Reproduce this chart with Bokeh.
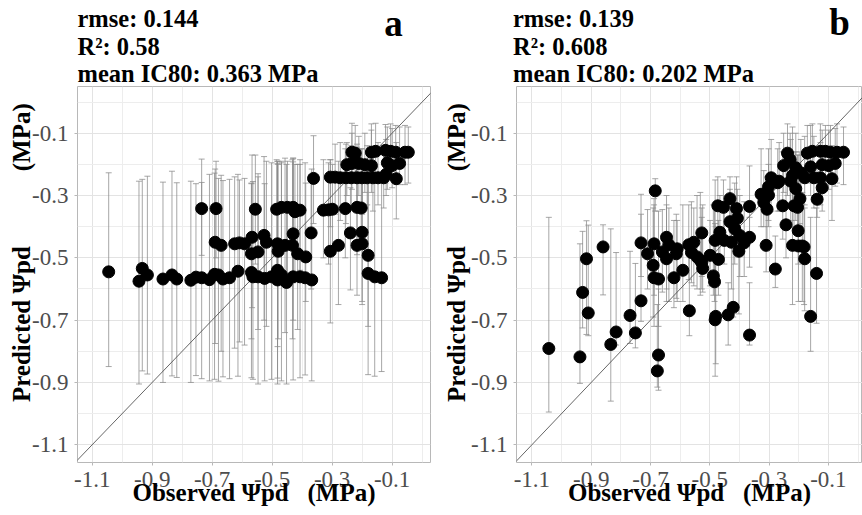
from bokeh.plotting import figure
from bokeh.layouts import row, column
from bokeh.models import (Range1d, FixedTicker, Whisker, TeeHead, ColumnDataSource, Slope)
from bokeh.core.properties import value
from bokeh.embed import file_html
from bokeh.resources import INLINE

# ---------------- data ----------------
major_ticks = [-1.1, -0.9, -0.7, -0.5, -0.3, -0.1]
minor_ticks = [-1.0, -0.8, -0.6, -0.4, -0.2, 0.0]
tick_labels = ["-1.1", "-0.9", "-0.7", "-0.5", "-0.3", "-0.1"]

stats_a = ["rmse: 0.144", "R\u00b2: 0.58", "mean IC80: 0.363 MPa"]
stats_b = ["rmse: 0.139", "R\u00b2: 0.608", "mean IC80: 0.202 MPa"]
letters = ["a", "b"]

# panel a : observed, predicted, upper, lower
obs_a = [-1.045, -0.933, -0.944, -0.916, -0.864, -0.834, -0.818, -0.771, -0.754, -0.735,
         -0.709, -0.692, -0.679, -0.664, -0.642, -0.614, -0.569, -0.564, -0.547, -0.525,
         -0.502, -0.482, -0.482, -0.469, -0.452, -0.430, -0.407, -0.390, -0.368, -0.180,
         -0.158, -0.135,
         -0.690, -0.670, -0.625, -0.609, -0.592, -0.567, -0.569, -0.547, -0.527, -0.519,
         -0.482, -0.480, -0.457, -0.430, -0.432, -0.415, -0.388, -0.370, -0.306, -0.279,
         -0.239, -0.200, -0.217, -0.200, -0.180,
         -0.735, -0.687, -0.556, -0.485, -0.469, -0.449, -0.430, -0.424, -0.407, -0.329,
         -0.312, -0.299, -0.256, -0.217, -0.203,
         -0.362, -0.306, -0.290, -0.273, -0.254, -0.236, -0.217, -0.200, -0.183, -0.164,
         -0.147, -0.128, -0.120, -0.086, -0.251, -0.234, -0.211, -0.191, -0.169, -0.116,
         -0.100, -0.075, -0.234, -0.223, -0.169, -0.155, -0.122, -0.105, -0.088, -0.057,
         -0.046]
pred_a = [-0.545, -0.534, -0.575, -0.555, -0.568, -0.555, -0.568, -0.572, -0.562, -0.564,
          -0.570, -0.553, -0.555, -0.568, -0.564, -0.543, -0.547, -0.561, -0.561, -0.566,
          -0.561, -0.540, -0.571, -0.555, -0.579, -0.561, -0.561, -0.564, -0.571, -0.550,
          -0.561, -0.564,
          -0.450, -0.460, -0.455, -0.452, -0.455, -0.434, -0.487, -0.481, -0.428, -0.450,
          -0.455, -0.479, -0.460, -0.423, -0.460, -0.487, -0.497, -0.420, -0.479, -0.460,
          -0.420, -0.418, -0.460, -0.455, -0.492,
          -0.342, -0.342, -0.344, -0.344, -0.338, -0.338, -0.338, -0.352, -0.347, -0.347,
          -0.346, -0.344, -0.342, -0.338, -0.340,
          -0.245, -0.241, -0.241, -0.243, -0.243, -0.243, -0.243, -0.243, -0.243, -0.243,
          -0.243, -0.243, -0.232, -0.246, -0.201, -0.197, -0.197, -0.201, -0.204, -0.195,
          -0.204, -0.197, -0.161, -0.164, -0.161, -0.158, -0.155, -0.158, -0.161, -0.161,
          -0.161]
hi_a = [-0.227, -0.248, -0.254, -0.238, -0.257, -0.222, -0.259, -0.254, -0.262, -0.258,
        -0.232, -0.228, -0.245, -0.252, -0.248, -0.232, -0.262, -0.255, -0.240, -0.262,
        -0.195, -0.198, -0.190, -0.195, -0.200, -0.192, -0.200, -0.195, -0.215, -0.235,
        -0.240, -0.235,
        -0.215, -0.235, -0.240, -0.250, -0.245, -0.170, -0.260, -0.230, -0.175, -0.190,
        -0.190, -0.200, -0.180, -0.180, -0.185, -0.200, -0.260, -0.250, -0.185, -0.190,
        -0.275, -0.235, -0.245, -0.230, -0.250,
        -0.183, -0.190, -0.170, -0.185, -0.190, -0.190, -0.180, -0.200, -0.185, -0.185,
        -0.195, -0.200, -0.150, -0.145, -0.150,
        -0.108, -0.185, -0.135, -0.130, -0.135, -0.140, -0.135, -0.150, -0.140, -0.145,
        -0.130, -0.140, -0.120, -0.130, -0.130, -0.100, -0.110, -0.100, -0.090, -0.080,
        -0.085, -0.080, -0.068, -0.075, -0.070, -0.068, -0.072, -0.070, -0.075, -0.075,
        -0.080]
lo_a = [-0.849, -0.863, -0.905, -0.873, -0.900, -0.879, -0.884, -0.900, -0.878, -0.888,
        -0.895, -0.890, -0.896, -0.882, -0.888, -0.880, -0.885, -0.890, -0.905, -0.895,
        -0.890, -0.886, -0.905, -0.895, -0.905, -0.892, -0.885, -0.876, -0.895, -0.875,
        -0.880, -0.865,
        -0.775, -0.800, -0.790, -0.770, -0.780, -0.660, -0.760, -0.730, -0.700, -0.720,
        -0.785, -0.760, -0.740, -0.700, -0.760, -0.730, -0.640, -0.600, -0.709, -0.650,
        -0.603, -0.640, -0.620, -0.650, -0.720,
        -0.492, -0.500, -0.520, -0.560, -0.540, -0.550, -0.580, -0.560, -0.540, -0.500,
        -0.520, -0.480, -0.500, -0.490, -0.470,
        -0.390, -0.400, -0.360, -0.380, -0.390, -0.345, -0.350, -0.360, -0.330, -0.350,
        -0.330, -0.340, -0.300, -0.375, -0.300, -0.280, -0.300, -0.290, -0.290, -0.280,
        -0.275, -0.265, -0.260, -0.250, -0.240, -0.255, -0.260, -0.250, -0.245, -0.265,
        -0.260]

# panel b
obs_b = [-1.043, -0.938, -0.929, -0.916, -0.910, -0.860, -0.834, -0.816, -0.769, -0.751,
         -0.732, -0.732, -0.710, -0.684, -0.688, -0.691, -0.688, -0.673, -0.673, -0.677,
         -0.660, -0.646, -0.646, -0.638, -0.621, -0.613, -0.610, -0.591, -0.569, -0.571,
         -0.562, -0.554, -0.543, -0.532, -0.527, -0.524, -0.527, -0.499, -0.488, -0.484,
         -0.482, -0.480, -0.482, -0.471, -0.473, -0.454, -0.466, -0.451, -0.432, -0.432,
         -0.427, -0.438, -0.421, -0.416, -0.410, -0.407, -0.402, -0.399, -0.384, -0.366,
         -0.366, -0.366, -0.327, -0.318, -0.307, -0.310, -0.302, -0.302, -0.293, -0.279,
         -0.266, -0.254, -0.243, -0.251, -0.238, -0.229, -0.227, -0.221, -0.216, -0.210,
         -0.210, -0.204, -0.202, -0.201, -0.196, -0.193, -0.188, -0.180, -0.182, -0.180,
         -0.171, -0.160, -0.160, -0.154, -0.140, -0.138, -0.127, -0.121, -0.121, -0.110,
         -0.099, -0.093, -0.088, -0.077, -0.071, -0.049, -0.149, -0.127, -0.221, -0.271]
pred_b = [-0.791, -0.818, -0.611, -0.503, -0.677, -0.465, -0.778, -0.738, -0.685, -0.741,
          -0.638, -0.452, -0.487, -0.285, -0.455, -0.524, -0.564, -0.568, -0.812, -0.863,
          -0.481, -0.434, -0.503, -0.458, -0.564, -0.487, -0.471, -0.540, -0.670, -0.458,
          -0.483, -0.450, -0.497, -0.508, -0.420, -0.534, -0.515, -0.492, -0.558, -0.577,
          -0.699, -0.688, -0.444, -0.505, -0.333, -0.338, -0.418, -0.444, -0.310, -0.384,
          -0.450, -0.683, -0.659, -0.407, -0.342, -0.373, -0.479, -0.428, -0.452, -0.434,
          -0.335, -0.748, -0.296, -0.322, -0.344, -0.460, -0.299, -0.272, -0.243, -0.536,
          -0.254, -0.333, -0.394, -0.204, -0.164, -0.185, -0.254, -0.460, -0.333, -0.211,
          -0.278, -0.338, -0.413, -0.462, -0.310, -0.227, -0.462, -0.503, -0.465, -0.243,
          -0.164, -0.208, -0.688, -0.158, -0.550, -0.312, -0.158, -0.201, -0.275, -0.158,
          -0.204, -0.161, -0.246, -0.197, -0.161, -0.161, -0.243, -0.243, -0.236, -0.259]
hi_b = [-0.370, -0.455, -0.415, -0.381, -0.395, -0.394, -0.407, -0.483, -0.479, -0.518,
        -0.296, -0.360, -0.345, -0.246, -0.310, -0.340, -0.330, -0.350, -0.600, -0.650,
        -0.345, -0.300, -0.330, -0.340, -0.380, -0.360, -0.380, -0.330, -0.470, -0.330,
        -0.320, -0.340, -0.300, -0.290, -0.370, -0.330, -0.340, -0.380, -0.330, -0.330,
        -0.250, -0.400, -0.390, -0.380, -0.240, -0.250, -0.300, -0.350, -0.240, -0.280,
        -0.340, -0.580, -0.420, -0.260, -0.240, -0.280, -0.330, -0.300, -0.320, -0.370,
        -0.205, -0.580, -0.150, -0.220, -0.240, -0.300, -0.200, -0.150, -0.120, -0.430,
        -0.130, -0.160, -0.170, -0.100, -0.070, -0.100, -0.120, -0.250, -0.160, -0.100,
        -0.160, -0.170, -0.170, -0.230, -0.160, -0.120, -0.290, -0.340, -0.300, -0.110,
        -0.075, -0.075, -0.370, -0.070, -0.340, -0.200, -0.070, -0.090, -0.140, -0.075,
        -0.090, -0.075, -0.140, -0.085, -0.070, -0.080, -0.110, -0.130, -0.080, -0.150]
lo_b = [-0.995, -0.903, -0.725, -0.746, -0.750, -0.619, -0.960, -0.780, -0.775, -0.789,
        -0.704, -0.560, -0.600, -0.350, -0.620, -0.690, -0.720, -0.720, -0.925, -0.915,
        -0.610, -0.600, -0.640, -0.640, -0.660, -0.630, -0.640, -0.640, -0.750, -0.570,
        -0.580, -0.590, -0.600, -0.620, -0.560, -0.610, -0.600, -0.590, -0.620, -0.640,
        -0.880, -0.840, -0.550, -0.620, -0.420, -0.430, -0.500, -0.520, -0.400, -0.460,
        -0.600, -0.780, -0.690, -0.520, -0.440, -0.470, -0.680, -0.560, -0.560, -0.530,
        -0.450, -0.780, -0.400, -0.400, -0.450, -0.545, -0.400, -0.380, -0.350, -0.595,
        -0.350, -0.440, -0.500, -0.290, -0.300, -0.330, -0.380, -0.650, -0.400, -0.330,
        -0.380, -0.410, -0.520, -0.640, -0.390, -0.330, -0.640, -0.670, -0.650, -0.330,
        -0.260, -0.300, -0.800, -0.250, -0.710, -0.370, -0.250, -0.280, -0.350, -0.260,
        -0.280, -0.250, -0.380, -0.270, -0.260, -0.265, -0.340, -0.330, -0.330, -0.350]

# ---------------- layout / styling ----------------
SERIF = "Liberation Serif"
W = 862
HEADER_H = 86
PANEL_H = 515 - HEADER_H
BOTTOM = 53
Y_RANGE = (-1.157, 0.050)
NB = "\u00a0"
Y_TITLE = NB * 7 + "Predicted \u03a8pd" + NB * 12 + "(MPa)"
X_TITLE = "Observed \u03a8pd" + NB * 3 + "(MPa)"
GREY = "#8A8A8A"


def panel(obs, pred, hi, lo, width, left, right, xr, ylab_standoff):
    p = figure(width=width, height=PANEL_H, output_backend="svg", toolbar_location=None,
               x_range=Range1d(*xr), y_range=Range1d(*Y_RANGE),
               min_border_left=left, min_border_right=right,
               min_border_top=0, min_border_bottom=BOTTOM)
    p.background_fill_color = "white"
    p.border_fill_color = "white"
    p.outline_line_color = "#B8B8B8"
    p.outline_line_width = 1

    for ax in (p.xaxis[0], p.yaxis[0]):
        ax.ticker = FixedTicker(ticks=major_ticks, minor_ticks=minor_ticks)
        ax.major_label_overrides = dict(zip(major_ticks, tick_labels))
        ax.axis_line_color = None
        ax.major_tick_line_color = "#B8B8B8"
        ax.major_tick_out = 3
        ax.major_tick_in = 0
        ax.minor_tick_line_color = None
        ax.major_label_text_font = SERIF
        ax.major_label_text_font_size = "23px"
        ax.major_label_text_color = "#4D4D4D"
        ax.major_label_standoff = 5
        ax.axis_label_text_font = SERIF
        ax.axis_label_text_font_style = "bold"
        ax.axis_label_text_font_size = "25px"
        ax.axis_label_text_color = "black"
    p.xaxis[0].axis_label = X_TITLE
    p.xaxis[0].axis_label_standoff = -11
    p.yaxis[0].axis_label = Y_TITLE
    p.yaxis[0].axis_label_standoff = ylab_standoff

    for g in (p.xgrid[0], p.ygrid[0]):
        g.grid_line_color = "#E3E3E3"
        g.grid_line_width = 1
        g.minor_grid_line_color = "#EDEDED"
        g.minor_grid_line_width = 1

    src = ColumnDataSource(dict(obs=obs, pred=pred, hi=hi, lo=lo))
    w = Whisker(base="obs", upper="hi", lower="lo", source=src, dimension="height",
                line_color=GREY, line_alpha=0.75, line_width=1, level="underlay",
                upper_head=TeeHead(size=6, line_color=GREY, line_alpha=0.75, line_width=1),
                lower_head=TeeHead(size=6, line_color=GREY, line_alpha=0.75, line_width=1))
    p.add_layout(w)
    p.add_layout(Slope(gradient=1, y_intercept=0, line_color="#555555", line_width=0.9,
                       level="underlay"))
    p.scatter("obs", "pred", source=src, size=12, fill_color="black", line_color="black")
    return p


# header with the statistics and panel letters (pixel coordinates)
hdr = figure(width=W, height=HEADER_H, output_backend="svg", toolbar_location=None,
             x_range=Range1d(0, W), y_range=Range1d(HEADER_H, 0),
             x_axis_type=None, y_axis_type=None, min_border=0)
hdr.outline_line_color = None
hdr.grid.visible = False
hdr.background_fill_color = "white"
hdr.border_fill_color = "white"

stat_x = [77, 512.5]
stat_y = [18.4, 45.9, 73.4]
for sx, stats in zip(stat_x, [stats_a, stats_b]):
    hdr.text(x=[sx] * 3, y=stat_y, text=stats, text_font=value(SERIF),
             text_font_style="bold", text_font_size="24.5px", text_color="black",
             text_align="left", text_baseline="middle")
hdr.text(x=[393, 839], y=[22.5, 21.5], text=letters, text_font=value(SERIF),
         text_font_style="bold", text_font_size="37px", text_color="black",
         text_align="center", text_baseline="middle")

pa = panel(obs_a, pred_a, hi_a, lo_a, width=440, left=77, right=10,
           xr=(-1.149, 0.028), ylab_standoff=-6)
pb = panel(obs_b, pred_b, hi_b, lo_b, width=W - 440, left=72, right=0,
           xr=(-1.152, 0.015), ylab_standoff=-2)

layout = column(hdr, row(pa, pb))
open("out.html", "w").write(file_html(layout, INLINE))
